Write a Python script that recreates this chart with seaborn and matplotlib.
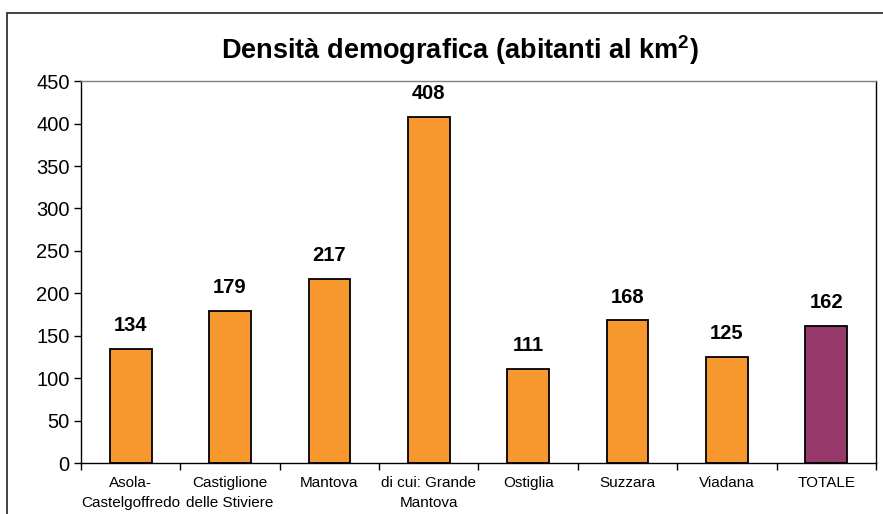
import numpy as np
import matplotlib.pyplot as plt
import matplotlib as mpl
import seaborn as sns
from matplotlib.patches import Rectangle

categories = ['Asola-\nCastelgoffredo', 'Castiglione\ndelle Stiviere', 'Mantova',
              'di cui: Grande\nMantova', 'Ostiglia', 'Suzzara', 'Viadana', 'TOTALE']
density = [134, 179, 217, 408, 111, 168, 125, 162]
bar_colors = ['#F7982F'] * 7 + ['#98396B']
y_ticks = [0, 50, 100, 150, 200, 250, 300, 350, 400, 450]

sns.set_style('white')
plt.rcParams['font.family'] = ['Liberation Sans', 'DejaVu Sans']
mpl.rcParams['text.color'] = 'black'
mpl.rcParams['xtick.color'] = 'black'
mpl.rcParams['ytick.color'] = 'black'
mpl.rcParams['mathtext.fontset'] = 'custom'
mpl.rcParams['mathtext.rm'] = 'Liberation Sans'
mpl.rcParams['mathtext.bf'] = 'Liberation Sans:bold'

fig = plt.figure(figsize=(8.83, 5.14), dpi=100)
ax = fig.add_axes([0.0917, 0.0992, 0.9003, 0.7428])

sns.barplot(x=categories, y=density, hue=categories, palette=bar_colors, legend=False,
            width=0.42, edgecolor='black', linewidth=1.3, saturation=1, ax=ax)

# value labels above bars
for i, v in enumerate(density):
    ax.annotate(str(v), (i, v), xytext=(0, 10), textcoords='offset points',
                ha='center', va='bottom', fontsize=14.5, fontweight='bold')

ax.set_ylim(0, 450)
ax.set_xlim(-0.5, len(categories) - 0.5)
ax.set_yticks(y_ticks)
ax.tick_params(axis='y', labelsize=14.5, length=5, width=1, direction='out', left=True, pad=3)
ax.set_xticks(np.arange(len(categories)))
ax.set_xticklabels(categories, fontsize=11, linespacing=1.55)
ax.set_xticks(np.arange(-0.5, len(categories)), minor=True)
ax.tick_params(axis='x', which='major', length=0, pad=9)
ax.tick_params(axis='x', which='minor', length=5, width=1, direction='out', bottom=True)

for side in ['left', 'bottom', 'right']:
    ax.spines[side].set_color('black')
    ax.spines[side].set_linewidth(1)
ax.spines['top'].set_color('#808080')
ax.spines['top'].set_linewidth(1)

fig.text(0.521, 0.902, 'Densità demografica (abitanti al km$^\\mathbf{2}$)',
         ha='center', va='center', fontsize=19.5, fontweight='bold')

# outer chart frame
fig.patches.append(Rectangle((0.0079, -0.05), 1.1, 0.9747 + 0.05, transform=fig.transFigure,
                             fill=False, edgecolor='#333333', linewidth=1.3))

fig.savefig('out.png', dpi=100)
